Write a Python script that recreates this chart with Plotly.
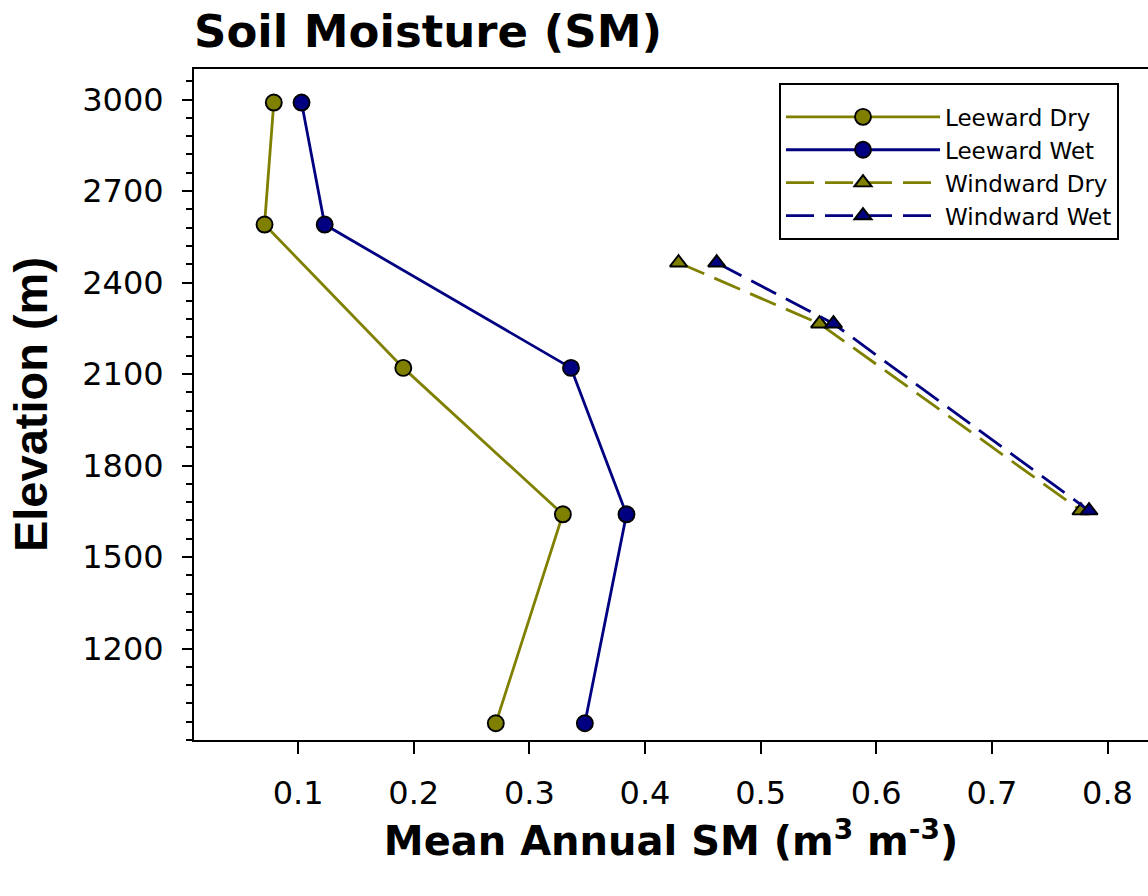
import plotly.graph_objects as go

# Data
lee_dry_sm = [0.079, 0.071, 0.191, 0.329, 0.271]
lee_wet_sm = [0.103, 0.123, 0.336, 0.384, 0.348]
lee_elev = [2990, 2590, 2120, 1640, 955]

win_dry_sm = [0.429, 0.551, 0.777]
win_wet_sm = [0.462, 0.563, 0.784]
win_elev = [2465, 2265, 1652]

x_ticks = [0.1, 0.2, 0.3, 0.4, 0.5, 0.6, 0.7, 0.8]
y_ticks = [1200, 1500, 1800, 2100, 2400, 2700, 3000]

OLIVE = "#808000"
NAVY = "#000080"
FONT = "DejaVu Sans, Arial, sans-serif"
FONT_N = "Liberation Sans, Arial, sans-serif"
DASH = "28px,11px"

fig = go.Figure()

def add(name, x, y, color, symbol, dash, group):
    fig.add_trace(go.Scatter(
        x=x, y=y, name=name, mode="lines+markers",
        legendgroup=group,
        line=dict(color=color, width=2.8, dash=dash),
        marker=dict(symbol=symbol, size=16 if symbol == "circle" else 15,
                    color=color, line=dict(color="black", width=1.9)),
    ))

add("Leeward Dry", lee_dry_sm, lee_elev, OLIVE, "circle", "solid", "a")
add("Leeward Wet", lee_wet_sm, lee_elev, NAVY, "circle", "solid", "b")
add("Windward Dry", win_dry_sm, win_elev, OLIVE, "triangle-up", DASH, "c")
add("Windward Wet", win_wet_sm, win_elev, NAVY, "triangle-up", DASH, "d")

fig.update_layout(
    width=1148, height=896,
    margin=dict(l=194, r=0, t=69, b=156),
    paper_bgcolor="white", plot_bgcolor="white",
    font=dict(family=FONT, color="black"),
    title=dict(text="<b>Soil Moisture (SM)</b>", font=dict(size=45, family=FONT),
               x=0, xanchor="left", xref="paper", y=1 - 31 / 896, yanchor="middle"),
    showlegend=True,
    legend=dict(
        x=(779 - 194) / 954, y=(740 - 83) / 671, xanchor="left", yanchor="top",
        bordercolor="black", borderwidth=2, bgcolor="white",
        font=dict(size=23, family=FONT),
        title=dict(text=" ", font=dict(size=8)),
        itemwidth=154, tracegroupgap=0,
    ),
)

fig.update_xaxes(
    range=[0.01, 0.835], tickvals=x_ticks, ticktext=[str(v) for v in x_ticks],
    showgrid=False, zeroline=False,
    showline=True, linecolor="black", linewidth=2, mirror=True,
    ticks="outside", ticklen=12, tickwidth=2, tickcolor="black",
    tickfont=dict(size=32, family=FONT), ticklabelstandoff=12,
    title=dict(text="<b>Mean Annual SM (m<sup>3</sup> m<sup>-3</sup>)</b>",
               font=dict(size=40, family=FONT), standoff=16),
)
fig.update_yaxes(
    range=[900, 3100], tickvals=y_ticks, ticktext=[str(v) for v in y_ticks],
    showgrid=False, zeroline=False,
    showline=True, linecolor="black", linewidth=2, mirror=False,
    ticks="outside", ticklen=10, tickwidth=2, tickcolor="black",
    tickfont=dict(size=32, family=FONT), ticklabelstandoff=12,
    minor=dict(ticks="outside", dtick=60, tick0=900, ticklen=6, tickwidth=1.5, tickcolor="black"),
    title=dict(text="<b>Elevation (m)</b>", font=dict(size=47, family=FONT_N), standoff=20),
)

fig.write_html("out.html")
